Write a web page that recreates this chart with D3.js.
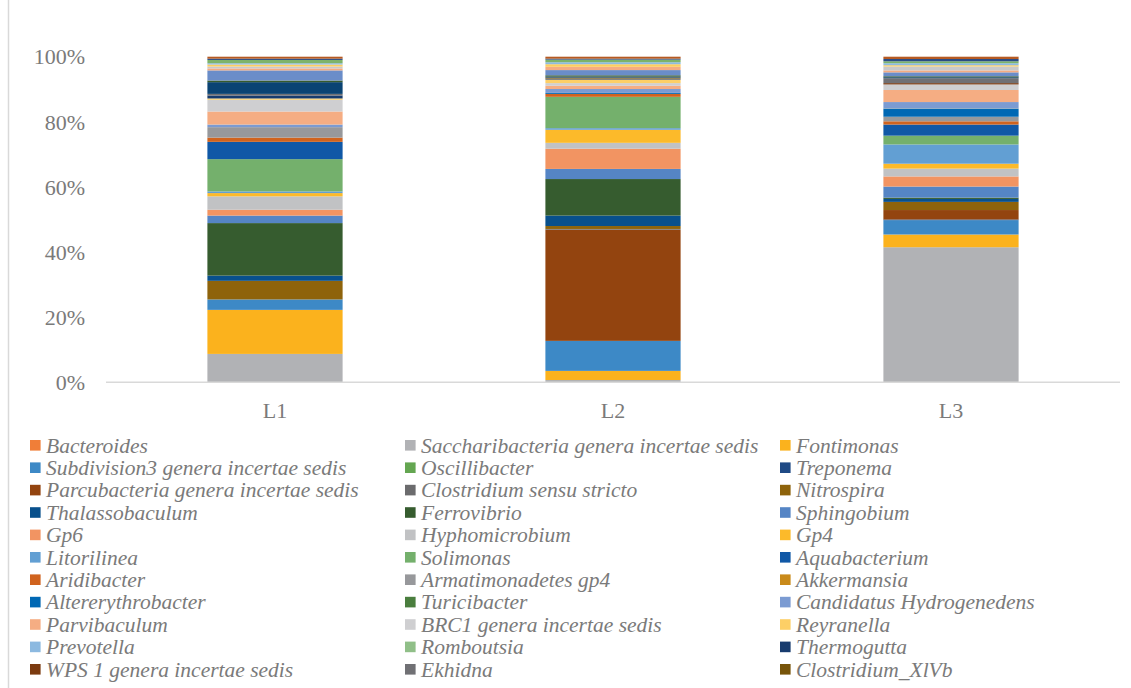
<!DOCTYPE html>
<html>
<head>
<meta charset="utf-8">
<script src="https://cdn.jsdelivr.net/npm/d3@7"></script>
<style>
  html, body { margin: 0; padding: 0; background: #ffffff; }
  svg { display: block; }
  text { font-family: "Liberation Serif", "Times New Roman", serif; fill: #7a7a7a; }
  .legend text { font-style: italic; }
</style>
</head>
<body>
<svg id="chart" width="1131" height="688"></svg>
<script>
// Samples on the x axis
const categories = ["L1", "L2", "L3"];

// Genera named in the legend (stacking order, bottom to top)
const taxa = [
  "Bacteroides", "Saccharibacteria genera incertae sedis", "Fontimonas",
  "Subdivision3 genera incertae sedis", "Oscillibacter", "Treponema",
  "Parcubacteria genera incertae sedis", "Clostridium sensu stricto", "Nitrospira",
  "Thalassobaculum", "Ferrovibrio", "Sphingobium",
  "Gp6", "Hyphomicrobium", "Gp4",
  "Litorilinea", "Solimonas", "Aquabacterium",
  "Aridibacter", "Armatimonadetes gp4", "Akkermansia",
  "Altererythrobacter", "Turicibacter", "Candidatus Hydrogenedens",
  "Parvibaculum", "BRC1 genera incertae sedis", "Reyranella",
  "Prevotella", "Romboutsia", "Thermogutta",
  "WPS 1 genera incertae sedis", "Ekhidna", "Clostridium_XlVb"
];

// Further minor genera stacked above, beyond the legend's listed rows
const minorTaxa = ["minor 1", "minor 2", "minor 3", "minor 4", "minor 5",
                   "minor 6", "minor 7", "minor 8", "minor 9", "minor 10"];

// Relative abundance (%) per sample, same order as taxa then minorTaxa
const valuesL1 = [
  0, 8.7, 13.5, 3.2, 0, 0, 0, 0, 5.7, 1.6, 16.1, 2.3,
  1.8, 4.1, 1.0, 0.5, 9.9, 5.3, 1.3, 3.2, 0, 0, 0, 0.8,
  4.0, 3.6, 0.4, 0, 0, 0.9, 0, 0.5, 0,
  3.6, 0.5, 3.1, 0.6, 0.6, 0.6, 0.4, 1.0, 0.4, 0.6
];
const valuesL2 = [
  0, 0.7, 2.8, 9.2, 0, 0, 34.1, 0.2, 0.9, 3.2, 11.2, 3.1,
  6.2, 1.8, 4.0, 0.5, 9.6, 0, 0.9, 0, 0, 0.3, 0, 1.2,
  1.0, 0.8, 1.0, 0, 0, 0, 0, 0.4, 0.3,
  0.3, 0.4, 1.6, 1.0, 0, 0.8, 0.6, 0.8, 0.3, 0.6
];
const valuesL3 = [
  0, 41.4, 3.9, 4.4, 0, 0.2, 2.9, 0, 2.5, 0.9, 0.4, 3.4,
  3.1, 2.4, 1.5, 5.9, 2.7, 3.4, 1.0, 1.4, 0, 2.4, 0.1, 2.0,
  3.7, 1.7, 0, 0, 0, 0, 0.4, 1.5, 0,
  0.3, 0.3, 1.2, 0.6, 1.2, 0.4, 0.6, 0.6, 0.7, 0.7
];

// Y axis tick values
const yTicks = [0, 0.2, 0.4, 0.6, 0.8, 1.0];

// Fill colours, one per series
const palette = [
  "#F07E38", "#B1B2B5", "#FBB21D", "#3D89C6", "#64A651", "#1F4A85",
  "#93440F", "#6B6B6D", "#8E630B", "#08508C", "#365C2F", "#5585C5",
  "#F29462", "#C1C2C4", "#FCBA2A", "#629FD3", "#74B06C", "#1058A6",
  "#D0631E", "#97989B", "#C98A1A", "#0068B4", "#4A7E3E", "#7B9BD2",
  "#F5AD83", "#CFCFD1", "#FDCF66", "#8CB9E0", "#90BF88", "#173B6E",
  "#7B3A0F", "#707074", "#775409",
  "#0A4373", "#385B2B", "#6A8DC9", "#F5AC82", "#C9C9CB", "#FDCD60",
  "#8DBBE3", "#7DB36A", "#2A4C86", "#B65A22"
];

const allKeys = taxa.concat(minorTaxa);
const sampleValues = { L1: valuesL1, L2: valuesL2, L3: valuesL3 };
const rows = categories.map(c => {
  const row = { sample: c };
  allKeys.forEach((k, i) => { row[k] = sampleValues[c][i]; });
  return row;
});

const svg = d3.select("#chart");

// Chart frame edge on the left
svg.append("line")
  .attr("x1", 8.5).attr("x2", 8.5)
  .attr("y1", 0).attr("y2", 688)
  .attr("stroke", "#d9d9d9").attr("stroke-width", 1.5);

const x = d3.scaleBand()
  .domain(categories)
  .range([106, 1120])
  .paddingInner(0.6)
  .paddingOuter(0.3);

const y = d3.scaleLinear()
  .domain([0, 1])
  .range([382.3, 56.7]);

const color = d3.scaleOrdinal().domain(allKeys).range(palette);

const series = d3.stack()
  .keys(allKeys)
  .offset(d3.stackOffsetExpand)(rows);

// Stacked bars
svg.append("g")
  .selectAll("g")
  .data(series)
  .join("g")
    .attr("fill", d => color(d.key))
  .selectAll("rect")
  .data(d => d.filter(p => p[1] - p[0] > 0))
  .join("rect")
    .attr("x", d => x(d.data.sample))
    .attr("width", x.bandwidth())
    .attr("y", d => y(d[1]))
    .attr("height", d => y(d[0]) - y(d[1]));

// Y axis labels
const yAxis = svg.append("g")
  .attr("transform", "translate(85,0)")
  .call(d3.axisLeft(y).tickValues(yTicks).tickFormat(d3.format(".0%")).tickSize(0).tickPadding(0));
yAxis.select(".domain").remove();
yAxis.selectAll("text")
  .attr("font-size", 22)
  .attr("font-family", null)
  .attr("fill", null)
  .attr("dy", "0.33em");

// X axis with baseline
const xAxis = svg.append("g")
  .attr("transform", "translate(0,382.3)")
  .call(d3.axisBottom(x).tickSize(0).tickPadding(0));
xAxis.select(".domain")
  .attr("stroke", "#d9d9d9")
  .attr("stroke-width", 1.5)
  .attr("d", "M106,0H1120");
xAxis.selectAll("text")
  .attr("font-size", 22)
  .attr("font-family", null)
  .attr("fill", null)
  .attr("dy", null)
  .attr("y", 36);

// Legend: three columns, row by row
const legendCols = [30, 405, 780];
const legend = svg.append("g").attr("class", "legend");
const items = legend.selectAll("g")
  .data(taxa)
  .join("g")
    .attr("transform", (d, i) => `translate(${legendCols[i % 3]},${445.3 + 22.4 * Math.floor(i / 3)})`);
items.append("rect")
  .attr("x", 0).attr("y", -5.3)
  .attr("width", 10.6).attr("height", 10.6)
  .attr("fill", d => color(d));
items.append("text")
  .attr("x", 16)
  .attr("y", 7.2)
  .attr("font-size", 21.5)
  .text(d => d);
</script>
</body>
</html>
